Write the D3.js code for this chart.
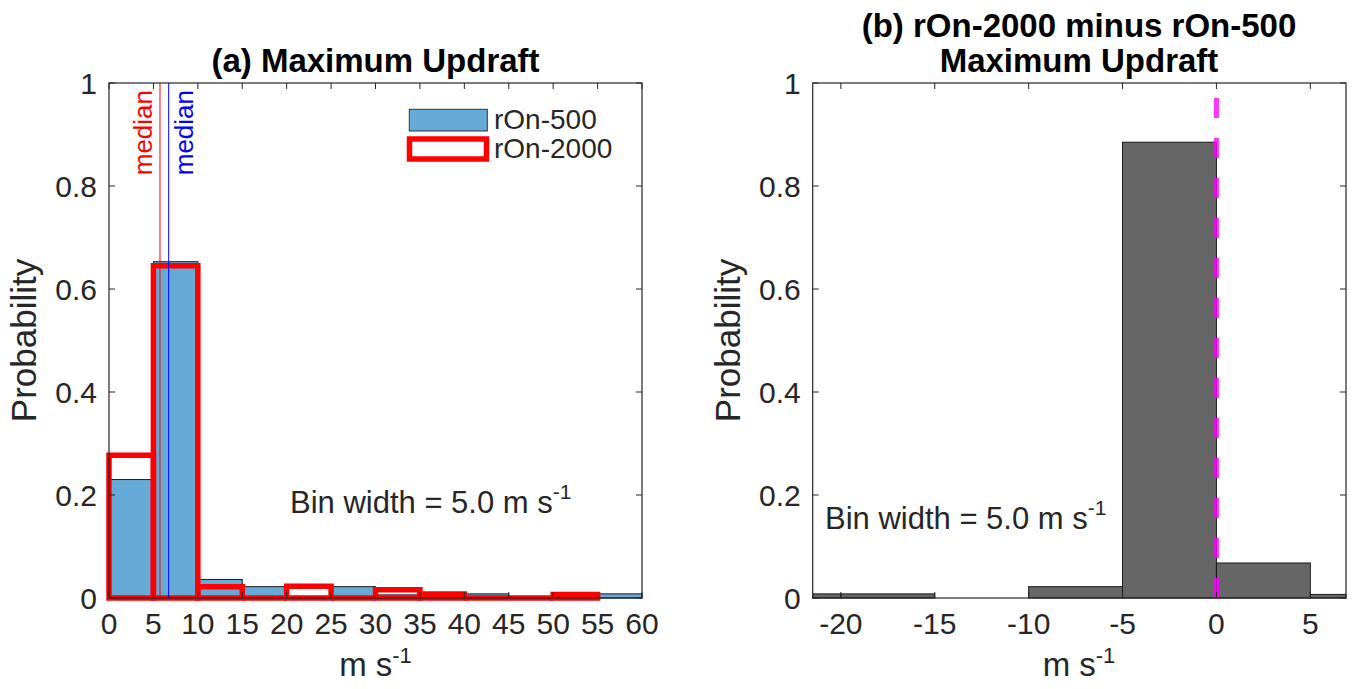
<!DOCTYPE html>
<html lang="en">
<head>
    <meta charset="UTF-8">
    <title>Maximum Updraft histograms</title>
    <script src="https://d3js.org/d3.v7.min.js"></script>
    <style>
        body {
            margin: 0;
            background: #fff;
            font-family: "Liberation Sans", Arial, Helvetica, sans-serif;
        }
        text {
            fill: #262626;
        }
        .title {
            fill: #000;
            font-weight: bold;
            font-size: 33px;
        }
    </style>
</head>
<body>
    <svg width="1356" height="689"></svg>
    <script>
        // panel (a): probability per 5 m/s bin (left bin edge)
        const updraftBins = [0, 5, 10, 15, 20, 25, 30, 35, 40, 45, 50, 55];
        const ron500Prob = [0.230, 0.653, 0.036, 0.022, 0.000, 0.022, 0.006, 0.005, 0.008, 0.002, 0.004, 0.008];
        const ron2000Prob = [0.277, 0.645, 0.022, 0.000, 0.023, 0.000, 0.016, 0.008, 0.000, 0.000, 0.007];
        const medianRon2000 = 5.74;
        const medianRon500 = 6.72;
        const xTicksA = [0, 5, 10, 15, 20, 25, 30, 35, 40, 45, 50, 55, 60];

        // panel (b): rOn-2000 minus rOn-500
        const diffBins = [-25, -20, -15, -10, -5, 0, 5];
        const diffProb = [0.008, 0.008, 0.000, 0.022, 0.885, 0.068, 0.007];
        const xTicksB = [-20, -15, -10, -5, 0, 5];

        const yTicks = [0, 0.2, 0.4, 0.6, 0.8, 1];
        const yTickLabels = ["0", "0.2", "0.4", "0.6", "0.8", "1"];
        const binWidth = 5;

        const svg = d3.select("svg");
        const plotTop = 83, plotBottom = 598;
        const font = 30;

        function drawAxes(x, y, xTicks, xTitleCenter) {
            const [x0, x1] = x.range();
            const g = svg.append("g");
            g.append("rect")
                .attr("x", x0).attr("y", plotTop)
                .attr("width", x1 - x0).attr("height", plotBottom - plotTop)
                .attr("fill", "none").attr("stroke", "#262626").attr("stroke-width", 1.2);
            // inward ticks on all four sides
            xTicks.forEach(t => {
                g.append("line").attr("x1", x(t)).attr("x2", x(t)).attr("y1", plotBottom).attr("y2", plotBottom - 6)
                    .attr("stroke", "#262626");
                g.append("line").attr("x1", x(t)).attr("x2", x(t)).attr("y1", plotTop).attr("y2", plotTop + 6)
                    .attr("stroke", "#262626");
                g.append("text")
                    .attr("x", x(t)).attr("y", 634)
                    .attr("text-anchor", "middle")
                    .attr("font-size", font)
                    .text(t);
            });
            yTicks.forEach((t, i) => {
                g.append("line").attr("x1", x0).attr("x2", x0 + 6).attr("y1", y(t)).attr("y2", y(t))
                    .attr("stroke", "#262626");
                g.append("line").attr("x1", x1).attr("x2", x1 - 6).attr("y1", y(t)).attr("y2", y(t))
                    .attr("stroke", "#262626");
                g.append("text")
                    .attr("x", x0 - 12).attr("y", y(t) + 10.5)
                    .attr("text-anchor", "end")
                    .attr("font-size", font)
                    .text(yTickLabels[i]);
            });
            g.append("text")
                .attr("transform", `translate(${x0 - 73},${(plotTop + plotBottom) / 2}) rotate(-90)`)
                .attr("text-anchor", "middle")
                .attr("font-size", 35)
                .text("Probability");
            const xl = g.append("text")
                .attr("x", xTitleCenter).attr("y", 676)
                .attr("text-anchor", "middle")
                .attr("font-size", 33);
            xl.append("tspan").text("m s");
            xl.append("tspan").attr("font-size", 22).attr("dy", -13).text("-1");
        }

        function binText(x, yBase) {
            const t = svg.append("text")
                .attr("x", x).attr("y", yBase)
                .attr("font-size", 31);
            t.append("tspan").text(`Bin width = ${binWidth.toFixed(1)} m s`);
            t.append("tspan").attr("font-size", 21).attr("dy", -14).text("-1");
        }

        // ---------- panel (a) ----------
        const xA = d3.scaleLinear().domain([0, 60]).range([109, 642]);
        const yA = d3.scaleLinear().domain([0, 1]).range([plotBottom, plotTop]);

        svg.append("g").selectAll("rect")
            .data(updraftBins.filter((d, i) => ron500Prob[i] > 0))
            .enter()
            .append("rect")
            .attr("x", d => xA(d))
            .attr("width", d => xA(d + binWidth) - xA(d))
            .attr("y", d => yA(ron500Prob[updraftBins.indexOf(d)]))
            .attr("height", d => yA(0) - yA(ron500Prob[updraftBins.indexOf(d)]))
            .attr("fill", "#66aad7")
            .attr("stroke", "#1a1a1a")
            .attr("stroke-width", 1);

        // outline bars as closed paths so empty bins still show as a thick line
        svg.append("g").selectAll("path")
            .data(ron2000Prob)
            .enter()
            .append("path")
            .attr("d", (d, i) => {
                const xl = xA(updraftBins[i]), xr = xA(updraftBins[i] + binWidth);
                return `M${xl},${yA(0)}V${yA(d)}H${xr}V${yA(0)}Z`;
            })
            .attr("fill", "none")
            .attr("stroke", "#ff0000")
            .attr("stroke-width", 5.5);

        [[medianRon2000, "#ff0000", -8.3], [medianRon500, "#0000ff", 24.5]].forEach(([m, c, dx]) => {
            svg.append("line")
                .attr("x1", xA(m)).attr("x2", xA(m))
                .attr("y1", plotTop).attr("y2", plotBottom)
                .attr("stroke", c).attr("stroke-width", 1);
            svg.append("text")
                .attr("transform", `translate(${xA(m) + dx},90) rotate(-90)`)
                .attr("text-anchor", "end")
                .attr("font-size", 26)
                .style("fill", c)
                .text("median");
        });

        drawAxes(xA, yA, xTicksA, 375.5);

        // legend
        svg.append("rect").attr("x", 409.3).attr("y", 109.3).attr("width", 78).attr("height", 21.7)
            .attr("fill", "#66aad7").attr("stroke", "#333").attr("stroke-width", 1);
        svg.append("rect").attr("x", 409.5).attr("y", 139).attr("width", 77).attr("height", 20)
            .attr("fill", "none").attr("stroke", "#ff0000").attr("stroke-width", 5.5);
        svg.append("text").attr("x", 494).attr("y", 129.3).attr("font-size", 28).text("rOn-500");
        svg.append("text").attr("x", 494).attr("y", 157.5).attr("font-size", 28).text("rOn-2000");

        binText(290, 513);

        svg.append("text").attr("class", "title")
            .attr("x", 375.5).attr("y", 72).attr("text-anchor", "middle")
            .text("(a) Maximum Updraft");

        // ---------- panel (b) ----------
        const xB = d3.scaleLinear().domain([-21.5, 6.9]).range([812.7, 1346]).clamp(true);
        const yB = d3.scaleLinear().domain([0, 1]).range([plotBottom, plotTop]);

        svg.append("g").selectAll("rect")
            .data(diffBins.filter((d, i) => diffProb[i] > 0))
            .enter()
            .append("rect")
            .attr("x", d => xB(d))
            .attr("width", d => xB(d + binWidth) - xB(d))
            .attr("y", d => yB(diffProb[diffBins.indexOf(d)]))
            .attr("height", d => yB(0) - yB(diffProb[diffBins.indexOf(d)]))
            .attr("fill", "#666666")
            .attr("stroke", "#1a1a1a")
            .attr("stroke-width", 1);

        svg.append("line")
            .attr("x1", xB(0)).attr("x2", xB(0))
            .attr("y1", yB(1)).attr("y2", yB(0))
            .attr("stroke", "#ff00ff")
            .attr("stroke-opacity", 0.8)
            .attr("stroke-width", 5)
            .attr("stroke-dasharray", "20,20")
            .attr("stroke-dashoffset", 25);

        drawAxes(xB, yB, xTicksB, 1079);

        binText(825, 529);

        svg.append("text").attr("class", "title")
            .attr("x", 1079).attr("y", 37).attr("text-anchor", "middle")
            .text("(b) rOn-2000 minus rOn-500");
        svg.append("text").attr("class", "title")
            .attr("x", 1079).attr("y", 72).attr("text-anchor", "middle")
            .text("Maximum Updraft");
    </script>
</body>
</html>
